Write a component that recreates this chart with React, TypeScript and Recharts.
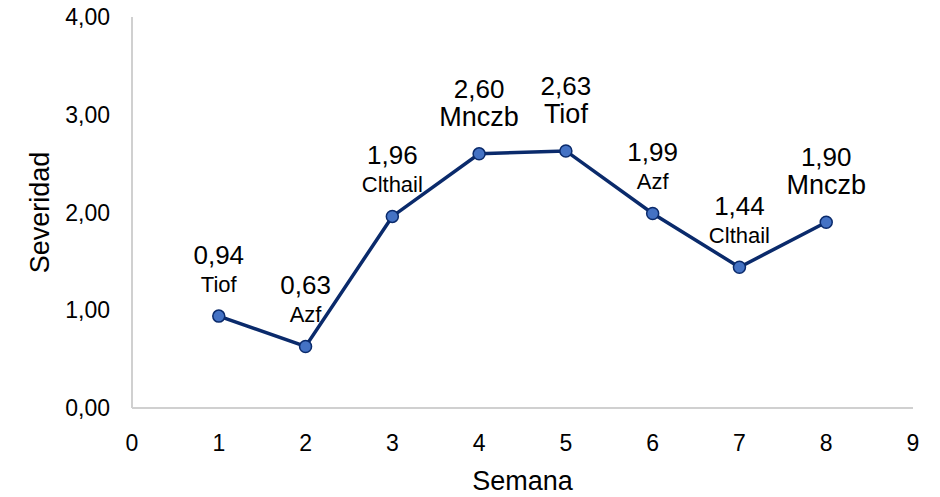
import React from "react";
import { LineChart, Line, XAxis, YAxis, LabelList, Label } from "recharts";

const semanas = [1, 2, 3, 4, 5, 6, 7, 8];
const severidad = [0.94, 0.63, 1.96, 2.6, 2.63, 1.99, 1.44, 1.9];
const tratamientos = ["Tiof", "Azf", "Clthail", "Mnczb", "Tiof", "Azf", "Clthail", "Mnczb"];
const xTicks = [0, 1, 2, 3, 4, 5, 6, 7, 8, 9];
const yTicks = [0, 1, 2, 3, 4];

const data = semanas.map((s, i) => ({ semana: s, severidad: severidad[i], trat: tratamientos[i] }));

// points whose treatment name is printed at the same size as the value
const bigNames = [3, 4, 7];

const FONT = "'Liberation Sans', Arial, sans-serif";
const fmt = (v: number) => v.toFixed(2).replace(".", ",");

const PointLabel = (props: any) => {
  const { x, y, index } = props;
  const big = bigNames.includes(index);
  return (
    <g fontFamily={FONT} fill="#000" textAnchor="middle">
      <text x={x} y={y - (big ? 65 : 61)} fontSize={26} dominantBaseline="central">
        {fmt(severidad[index])}
      </text>
      <text x={x} y={y - (big ? 37 : 32)} fontSize={big ? 27 : 22} dominantBaseline="central">
        {tratamientos[index]}
      </text>
    </g>
  );
};

export default function App() {
  return (
    <div style={{ position: "absolute", left: 0, top: 0, background: "#fff" }}>
      <LineChart width={940} height={497} data={data} margin={{ top: 17, right: 27, left: 0, bottom: 0 }}>
        <XAxis
          dataKey="semana"
          type="number"
          domain={[0, 9]}
          ticks={xTicks}
          axisLine={{ stroke: "#d0d0d0", strokeWidth: 2 }}
          tickLine={false}
          tickSize={0}
          tickMargin={27}
          height={89}
          tick={{ fontSize: 23, fill: "#000", fontFamily: FONT }}
        >
          <Label
            content={({ viewBox }: any) => (
              <text
                x={viewBox.x + viewBox.width / 2}
                y={viewBox.y + 73}
                textAnchor="middle"
                dominantBaseline="central"
                fontSize={27}
                fontFamily={FONT}
                fill="#000"
              >
                Semana
              </text>
            )}
          />
        </XAxis>
        <YAxis
          type="number"
          domain={[0, 4]}
          ticks={yTicks}
          tickFormatter={fmt}
          axisLine={{ stroke: "#d0d0d0", strokeWidth: 2 }}
          tickLine={false}
          tickSize={0}
          tickMargin={22}
          width={132}
          tick={{ fontSize: 23, fill: "#000", fontFamily: FONT }}
        >
          <Label
            content={({ viewBox }: any) => {
              const cx = viewBox.x + 40;
              const cy = viewBox.y + viewBox.height / 2;
              return (
                <text
                  x={cx}
                  y={cy}
                  transform={`rotate(-90 ${cx} ${cy})`}
                  textAnchor="middle"
                  dominantBaseline="central"
                  fontSize={27}
                  fontFamily={FONT}
                  fill="#000"
                >
                  Severidad
                </text>
              );
            }}
          />
        </YAxis>
        <Line
          dataKey="severidad"
          stroke="#0a2a6b"
          strokeWidth={3.5}
          dot={{ r: 6, fill: "#4472C4", stroke: "#0a2a6b", strokeWidth: 1.5 }}
          isAnimationActive={false}
        >
          <LabelList dataKey="severidad" content={PointLabel} />
        </Line>
      </LineChart>
    </div>
  );
}
